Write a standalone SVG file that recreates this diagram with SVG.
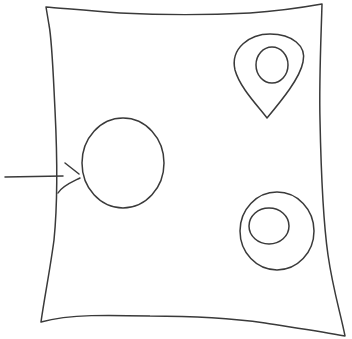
<svg xmlns="http://www.w3.org/2000/svg" width="352" height="339" viewBox="0 0 352 339">
<style>
.s{fill:none;stroke:#3a3a3a;stroke-width:1.5;stroke-linecap:round;stroke-linejoin:round}
</style>
<rect width="352" height="339" fill="#fff"/>
<g id="frame">
<path class="s" d="M46,7 C60,8 90,11 120,13 C160,15 210,15 250,13 C280,11 305,7 322,4 C321,40 319,80 320,120 C321,170 323,220 328,255 C333,290 341,315 345,336 C320,331 290,327 265,323 C230,318 190,316 150,316 C110,315 70,314 41,322 C44,300 50,270 54,240 C58,200 57,150 55,110 C53,70 52,40 49,25 Z"/>
</g>
<g id="pin">
<path class="s" d="M267,118 C258,106 240,88 235,70 C230,48 250,34 270,34 C292,34 307,46 303,62 C300,78 282,100 267,118 Z"/>
<ellipse class="s" cx="272" cy="65" rx="16" ry="18"/>
</g>
<g id="circle">
<ellipse class="s" cx="123" cy="163" rx="41" ry="45"/>
</g>
<g id="rings">
<ellipse class="s" cx="277" cy="231" rx="37" ry="39"/>
<ellipse class="s" cx="269" cy="226" rx="20" ry="18"/>
</g>
<g id="connectors">
<path class="s" d="M5,177 L63,176"/>
<path class="s" d="M65,163 L79,174 M58,193 C62,186 72,182 80,178"/>
</g>
</svg>
